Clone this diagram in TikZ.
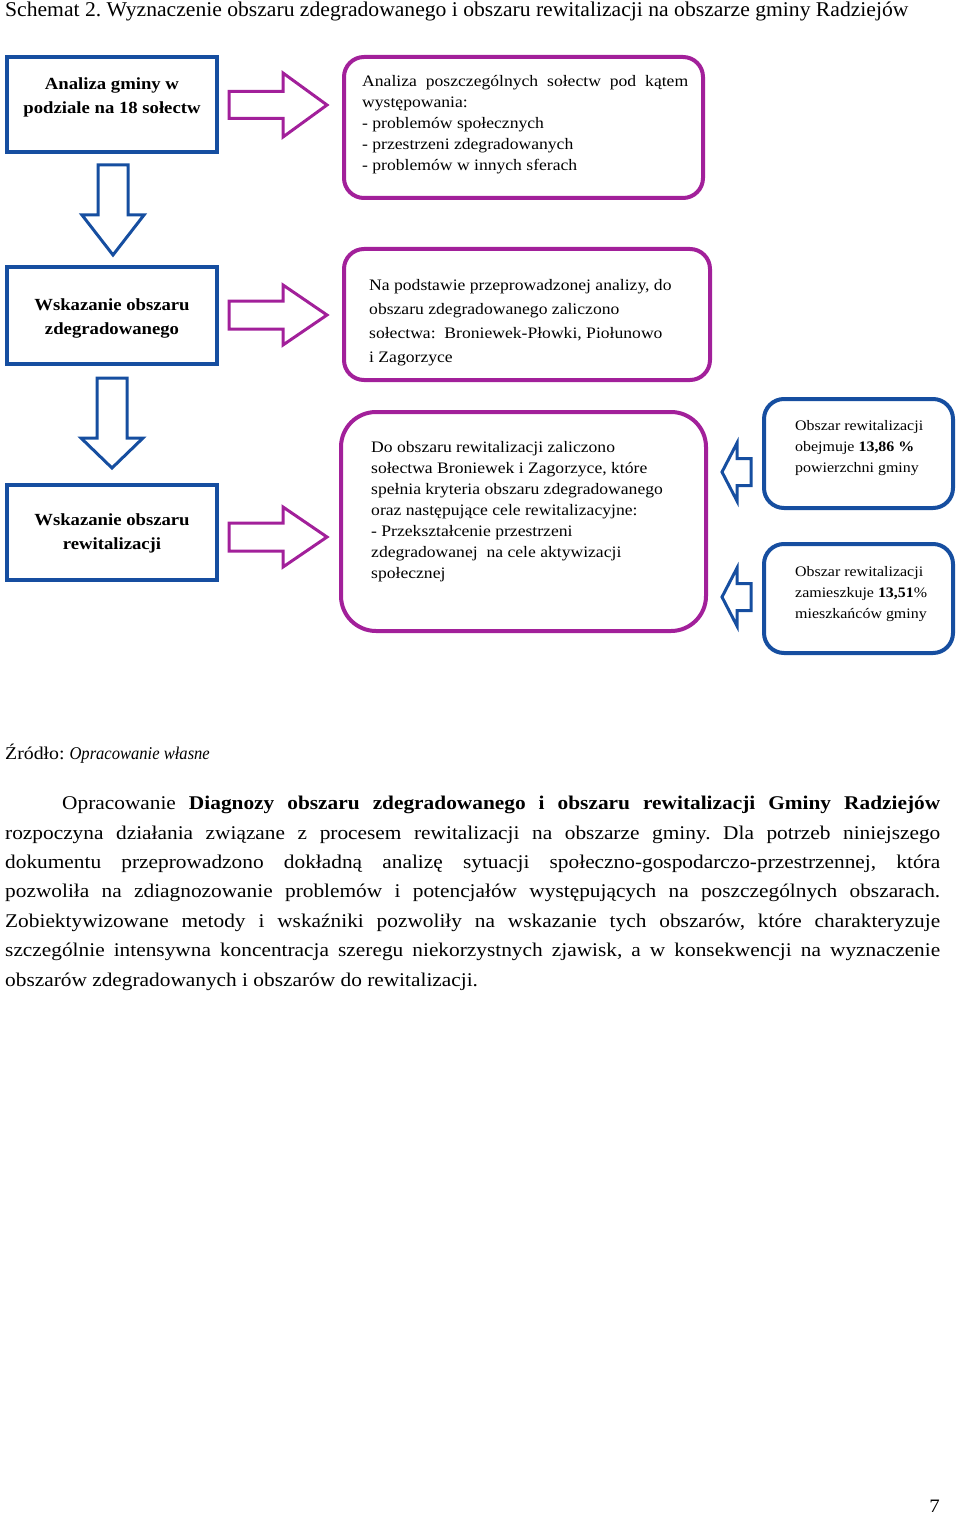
\documentclass[tikz,border=0pt]{standalone}
\usepackage{fontspec}
\setmainfont{Liberation Serif}[FakeStretch=1.1]
\newfontfamily\titlefont{Liberation Serif}[FakeStretch=1.03]
\newfontfamily\narrowfont{Liberation Serif}[FakeStretch=0.92]
\definecolor{bblue}{RGB}{22,78,160}
\definecolor{mag}{RGB}{162,32,154}
\frenchspacing
\begin{document}
\begin{tikzpicture}[x=1pt,y=-1pt,
  sqbox/.style={draw=bblue,line width=4pt,inner sep=0pt,minimum width=210pt},
  rbox/.style={draw=mag,line width=4pt,rounded corners=20pt,inner sep=0pt},
  brbox/.style={draw=bblue,line width=4pt,rounded corners=20pt,inner sep=0pt,minimum width=189pt,minimum height=109pt},
  marrow/.style={draw=mag,line width=3pt,line join=miter},
  barrow/.style={draw=bblue,line width=3pt,line join=miter},
  boldtxt/.style={inner sep=0pt,align=center,font=\fontsize{17}{24}\selectfont\bfseries},
  boxtxt/.style={inner sep=0pt,align=left,anchor=north west,font=\fontsize{16}{21}\selectfont},
  smalltxt/.style={inner sep=0pt,align=left,anchor=north west,font=\fontsize{14.5}{21}\selectfont}]
\useasboundingbox (0,0) rectangle (960,1514);
% title
\node[inner sep=0pt,anchor=base west,font=\titlefont\fontsize{21}{24}\selectfont] (title) at (5,16.5)
  {Schemat 2. Wyznaczenie obszaru zdegradowanego i obszaru rewitalizacji na obszarze gminy Radziejów};
% left boxes
\node[sqbox,minimum height=95pt] (A) at (112,104.5) {};
\node[boldtxt] (At) at (112,97) {Analiza gminy w\\podziale na 18 sołectw};
\node[sqbox,minimum height=97pt] (C) at (112,315.5) {};
\node[boldtxt] (Ct) at (112,318) {Wskazanie obszaru\\zdegradowanego};
\node[sqbox,minimum height=95pt] (E) at (112,532.5) {};
\node[boldtxt] (Et) at (112,533) {Wskazanie obszaru\\rewitalizacji};
% magenta boxes
\node[rbox,minimum width=359pt,minimum height=141pt] (B) at (523.5,127.5) {};
\node[boxtxt] (Bt) at (362,75) {\makebox[326pt][s]{Analiza poszczególnych sołectw pod kątem}\\występowania:\\- problemów społecznych\\- przestrzeni zdegradowanych\\- problemów w innych sferach};
\node[rbox,minimum width=366pt,minimum height=131pt] (D) at (527,314.5) {};
\node[boxtxt,font=\fontsize{16}{24}\selectfont] (Dt) at (369,279) {Na podstawie przeprowadzonej analizy, do\\obszaru zdegradowanego zaliczono\\sołectwa:\ \ Broniewek-Płowki, Piołunowo\\i Zagorzyce};
\node[rbox,rounded corners=35pt,minimum width=365pt,minimum height=219pt] (F) at (523.5,521.5) {};
\node[boxtxt] (Ft) at (371,441) {Do obszaru rewitalizacji zaliczono\\sołectwa Broniewek i Zagorzyce, które\\spełnia kryteria obszaru zdegradowanego\\oraz następujące cele rewitalizacyjne:\\- Przekształcenie przestrzeni\\zdegradowanej\ \ na cele aktywizacji\\społecznej};
% right small boxes
\node[brbox] (G) at (858.5,453.5) {};
\node[smalltxt] (Gt) at (795,420.5) {Obszar rewitalizacji\\obejmuje \textbf{13,86 \%}\\powierzchni gminy};
\node[brbox] (H) at (858.5,598.5) {};
\node[smalltxt] (Ht) at (795,566.5) {Obszar rewitalizacji\\zamieszkuje \textbf{13,51}\%\\mieszkańców gminy};
% right arrows (magenta)
\draw[marrow] (229,91.5) -- (283,91.5) -- (283,73) -- (327,105) -- (283,137) -- (283,118.5) -- (229,118.5) -- cycle;
\draw[marrow] (229,301) -- (283,301) -- (283,285) -- (327,315) -- (283,345) -- (283,329) -- (229,329) -- cycle;
\draw[marrow] (229,523) -- (283,523) -- (283,507) -- (327,537) -- (283,567) -- (283,551) -- (229,551) -- cycle;
% down arrows (blue)
\draw[barrow] (98,165) -- (128,165) -- (128,215) -- (144,215) -- (113,255) -- (82,215) -- (98,215) -- cycle;
\draw[barrow] (97,378) -- (127,378) -- (127,438) -- (143,438) -- (112,468) -- (81,438) -- (97,438) -- cycle;
% left arrows (blue)
\draw[barrow] (751,458.5) -- (737,458.5) -- (737,443) -- (722,472) -- (737,501) -- (737,485.5) -- (751,485.5) -- cycle;
\draw[barrow] (751,583.5) -- (737,583.5) -- (737,568) -- (722,597) -- (737,626) -- (737,610.5) -- (751,610.5) -- cycle;
% source
\node[inner sep=0pt,anchor=base west,font=\fontsize{18}{22}\selectfont] (src) at (5,759.5)
  {Źródło: {\narrowfont\itshape Opracowanie własne}};
% paragraph
\node[inner sep=0pt,anchor=north west,text width=935pt,align=justify,
  font=\fontsize{19.4}{29.4}\selectfont] (par) at (5,796)
  {\tolerance=10000\hspace*{57pt}Opracowanie \textbf{Diagnozy obszaru zdegradowanego i obszaru rewitalizacji Gminy Radziejów}\linebreak
  rozpoczyna działania związane z procesem rewitalizacji na obszarze gminy. Dla potrzeb niniejszego\linebreak
  dokumentu przeprowadzono dokładną analizę sytuacji społeczno-gospodarczo-przestrzennej, która\linebreak
  pozwoliła na zdiagnozowanie problemów i potencjałów występujących na poszczególnych obszarach.\linebreak
  Zobiektywizowane metody i wskaźniki pozwoliły na wskazanie tych obszarów, które charakteryzuje\linebreak
  szczególnie intensywna koncentracja szeregu niekorzystnych zjawisk, a w konsekwencji na wyznaczenie\linebreak
  obszarów zdegradowanych i obszarów do rewitalizacji.};
% page number
\node[inner sep=0pt,anchor=base east,font=\fontsize{19}{22}\selectfont] (pg) at (940,1512) {7};
\end{tikzpicture}
\end{document}
